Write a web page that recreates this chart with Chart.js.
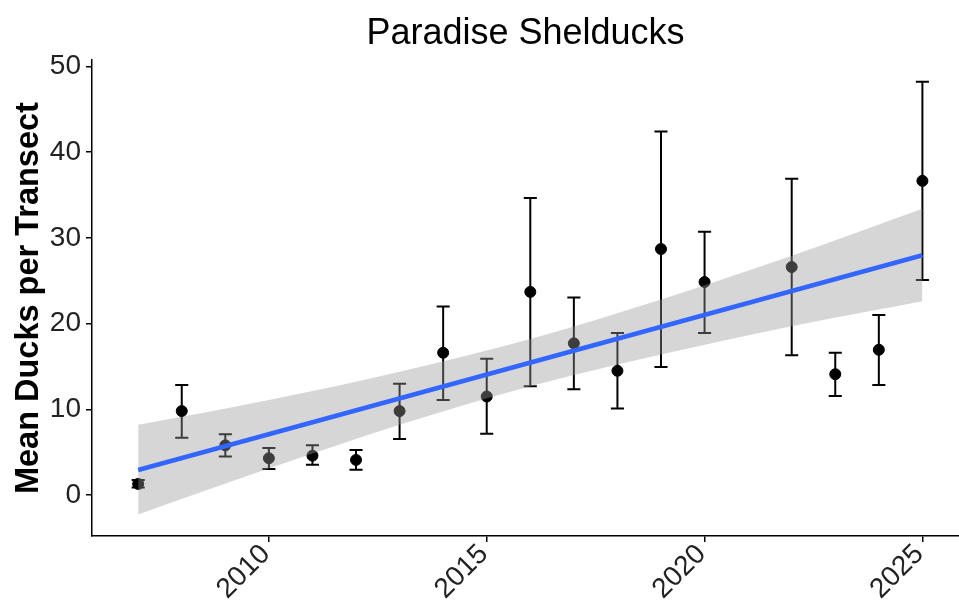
<!DOCTYPE html>
<html>
<head>
<meta charset="utf-8">
<script src="https://cdn.jsdelivr.net/npm/chart.js@4.4.1/dist/chart.umd.min.js"></script>
<style>
  html, body { margin: 0; padding: 0; background: #fff; }
  #wrap { width: 959px; height: 601px; }
</style>
</head>
<body>
<div id="wrap"><canvas id="chart" width="959" height="601"></canvas></div>
<script>
// survey years and mean ducks per transect, with error bar limits
const years = [2007, 2008, 2009, 2010, 2011, 2012, 2013, 2014, 2015, 2016, 2017, 2018, 2019, 2020, 2022, 2023, 2024, 2025];
const means = [1.3, 9.8, 5.8, 4.3, 4.6, 4.1, 9.8, 16.6, 11.5, 23.7, 17.7, 14.5, 28.7, 24.85, 26.6, 14.1, 16.95, 36.65];
const lower = [0.9, 6.7, 4.5, 3.05, 3.55, 2.95, 6.55, 11.1, 7.15, 12.7, 12.35, 10.1, 14.95, 18.9, 16.3, 11.55, 12.85, 25.1];
const upper = [1.75, 12.85, 7.1, 5.5, 5.8, 5.25, 13.0, 22.0, 15.9, 34.65, 23.05, 18.9, 42.4, 30.7, 36.9, 16.6, 21.0, 48.2];

// fitted trend and its confidence band
const trendYears = [2007, 2025];
const trendValues = [2.93, 27.97];
const bandYears = [2007, 2010, 2013, 2016, 2019, 2022, 2025];
const bandUpper = [8.2, 11.1, 14.4, 18.2, 22.8, 27.9, 33.4];
const bandLower = [-2.25, 3.1, 8.2, 12.7, 16.4, 19.7, 22.6];

const xTicks = [2010, 2015, 2020, 2025];
const yTicks = [0, 10, 20, 30, 40, 50];

const pts = (xs, ys) => xs.map((x, i) => ({ x: x, y: ys[i] }));

// error bars go under everything so the band greys them like ggplot does
const errorBars = {
  id: 'errorBars',
  beforeDatasetsDraw(chart) {
    const { ctx, chartArea, scales: { x, y } } = chart;
    const cap = 0.15;
    ctx.save();
    ctx.beginPath();
    ctx.rect(chartArea.left, chartArea.top, chartArea.right - chartArea.left, chartArea.bottom - chartArea.top);
    ctx.clip();
    ctx.strokeStyle = '#000';
    ctx.lineWidth = 2;
    years.forEach((yr, i) => {
      const px = x.getPixelForValue(yr);
      const x0 = x.getPixelForValue(yr - cap);
      const x1 = x.getPixelForValue(yr + cap);
      const yl = y.getPixelForValue(lower[i]);
      const yu = y.getPixelForValue(upper[i]);
      ctx.beginPath();
      ctx.moveTo(px, yl); ctx.lineTo(px, yu);
      ctx.moveTo(x0, yl); ctx.lineTo(x1, yl);
      ctx.moveTo(x0, yu); ctx.lineTo(x1, yu);
      ctx.stroke();
    });
    ctx.restore();
  }
};

const axisGrid = {
  display: true,
  drawOnChartArea: false,
  drawTicks: true,
  tickLength: 6,
  color: '#000',
  lineWidth: 1.5
};

new Chart(document.getElementById('chart'), {
  type: 'scatter',
  data: {
    datasets: [
      {
        type: 'line',
        data: pts(trendYears, trendValues),
        borderColor: '#3366FF',
        borderWidth: 4.5,
        pointRadius: 0,
        fill: false
      },
      {
        type: 'line',
        data: pts(bandYears, bandUpper),
        borderWidth: 0,
        borderColor: 'rgba(0,0,0,0)',
        backgroundColor: 'rgba(153,153,153,0.4)',
        pointRadius: 0,
        cubicInterpolationMode: 'monotone',
        fill: '+1'
      },
      {
        type: 'line',
        data: pts(bandYears, bandLower),
        borderWidth: 0,
        borderColor: 'rgba(0,0,0,0)',
        pointRadius: 0,
        cubicInterpolationMode: 'monotone',
        fill: false
      },
      {
        data: pts(years, means),
        backgroundColor: '#000',
        borderColor: '#000',
        pointRadius: 5.5,
        pointHoverRadius: 5.5
      }
    ]
  },
  options: {
    responsive: false,
    animation: false,
    devicePixelRatio: 1,
    layout: { autoPadding: false, padding: { left: 0, right: 0, top: 0, bottom: 0 } },
    plugins: {
      legend: { display: false },
      tooltip: { enabled: false },
      title: {
        display: true,
        text: 'Paradise Shelducks',
        fullSize: false,
        color: '#000',
        font: { family: 'Liberation Sans', size: 36, weight: 'normal' },
        padding: { top: 12, bottom: 5 }
      }
    },
    scales: {
      x: {
        type: 'linear',
        min: 2005.94,
        max: 2025.84,
        grid: axisGrid,
        border: { display: true, color: '#000', width: 1.5 },
        afterBuildTicks: (s) => { s.ticks = xTicks.map(v => ({ value: v })); },
        afterFit: (s) => { s.height = 65; s.paddingRight = 0; s.paddingLeft = 0; },
        ticks: {
          color: '#222',
          minRotation: 45,
          maxRotation: 45,
          padding: -4,
          labelOffset: -3,
          font: { family: 'Liberation Sans', size: 28 },
          callback: (v) => String(v)
        }
      },
      y: {
        type: 'linear',
        min: -4.77,
        max: 50.72,
        grid: axisGrid,
        border: { display: true, color: '#000', width: 1.5 },
        afterBuildTicks: (s) => { s.ticks = yTicks.map(v => ({ value: v })); },
        afterFit: (s) => { s.width = 92; },
        ticks: {
          color: '#222',
          padding: 5,
          font: { family: 'Liberation Sans', size: 28 }
        },
        title: {
          display: true,
          text: 'Mean Ducks per Transect',
          color: '#000',
          font: { family: 'Liberation Sans', size: 32.5, weight: 'bold' },
          padding: { top: 10, bottom: 0 }
        }
      }
    }
  },
  plugins: [errorBars]
});
</script>
</body>
</html>
